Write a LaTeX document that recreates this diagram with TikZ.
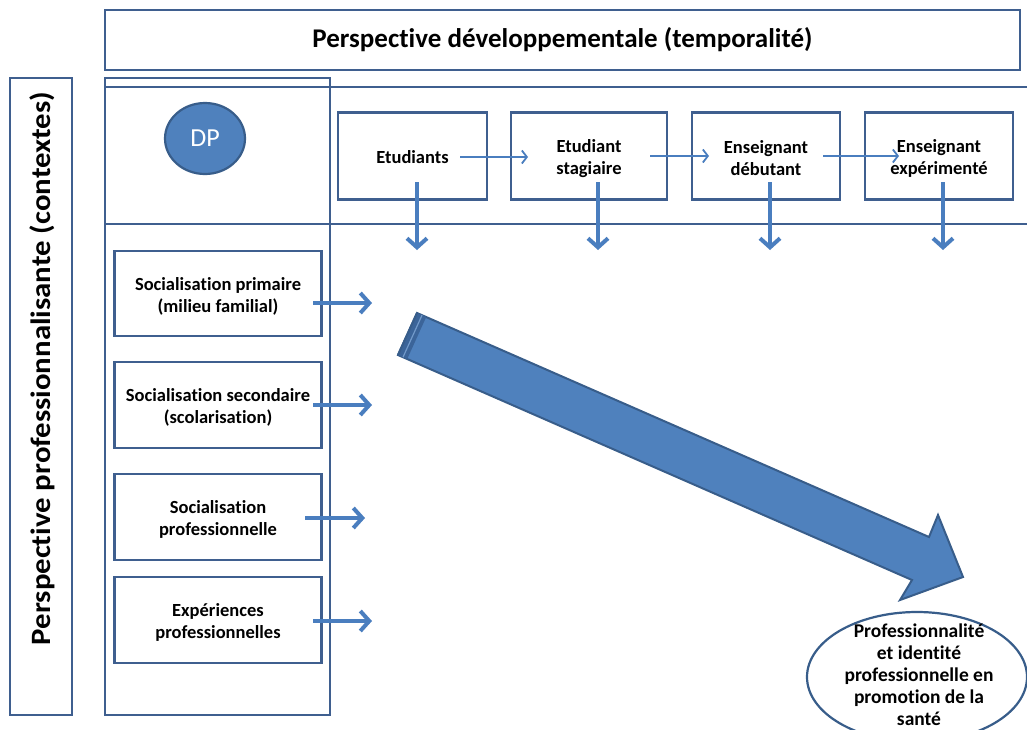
\documentclass[tikz,border=0pt]{standalone}
\usepackage{fontspec}
\setmainfont{Carlito}[Ligatures=NoCommon]
\usetikzlibrary{arrows.meta,shapes.geometric}
\definecolor{frame}{HTML}{3F5F8F}
\definecolor{blue1}{HTML}{4F81BD}
\definecolor{dark}{HTML}{385D8A}
\definecolor{darkband}{HTML}{3B6499}
\definecolor{arr}{HTML}{4A7EBF}
\begin{document}
\begin{tikzpicture}[x=1pt,y=-1pt,
  frameline/.style={draw=frame,line width=2.6pt},
  framebox/.style={draw=frame,line width=2.6pt,inner sep=0pt},
  stepbox/.style={draw=frame,line width=2.6pt,fill=white,inner sep=0pt},
  lbl/.style={align=center,inner sep=0pt,font=\bfseries\fontsize{18.5}{22}\selectfont},
  thinarr/.style={draw=arr,line width=1.8pt,-{Straight Barb[length=5pt,width=13pt]}},
  thickarr/.style={draw=arr,line width=4pt,-{Straight Barb[length=9pt,width=20pt]}},
]
\useasboundingbox (0,0) rectangle (1027,729);
\fill[white] (0,0) rectangle (1027,729);

% title
\node[framebox, minimum width=915pt, minimum height=60pt,
  font=\bfseries\fontsize{27}{31}\selectfont] (title) at (562.5,40) {Perspective développementale (temporalité)};

% vertical band
\node[framebox, minimum width=62pt, minimum height=637pt] (vbox) at (41,396.5) {};
\node[rotate=90, xscale=1.1, inner sep=0pt, font=\bfseries\fontsize{28}{32}\selectfont] (vtext) at (42,368.5) {Perspective professionnalisante (contextes)};

% left column
\node[framebox, minimum width=225pt, minimum height=637pt] (col) at (217.5,396.5) {};
\coordinate (l1a) at (105,87);
\coordinate (l1b) at (1027,87);
\coordinate (l2a) at (105,224);
\coordinate (l2b) at (1027,224);
\draw[frameline] (l1a) -- (l1b);
\draw[frameline] (l2a) -- (l2b);

% DP
\node[ellipse, draw=dark, line width=2.2pt, fill=blue1, minimum width=80pt, minimum height=71pt,
  text=white, font=\fontsize{26}{30}\selectfont, inner sep=0pt] (dp) at (205,138.5) {DP};

% stage boxes
\node[stepbox, minimum width=149pt, minimum height=87pt] (etu) at (412.5,156) {};
\node[stepbox, minimum width=156pt, minimum height=87pt] (sta) at (589,156) {};
\node[stepbox, minimum width=148pt, minimum height=87pt] (deb) at (766,156) {};
\node[stepbox, minimum width=148pt, minimum height=87pt] (exp) at (939,156) {};
\node[lbl] (etut) at (412.5,157.5) {Etudiants};
\node[lbl] (stat) at (589,158.5) {Etudiant\\stagiaire};
\node[lbl] (debt) at (766,158.5) {Enseignant\\débutant};
\node[lbl] (expt) at (939,158.5) {Enseignant\\expérimenté};

% horizontal thin arrows
\coordinate (h1s) at (460,157); \coordinate (h1e) at (528,157);
\coordinate (h2s) at (650,156); \coordinate (h2e) at (709,156);
\coordinate (h3s) at (823,156); \coordinate (h3e) at (899,156);
\draw[thinarr] (h1s) -- (h1e);
\draw[thinarr] (h2s) -- (h2e);
\draw[thinarr] (h3s) -- (h3e);

% vertical thick arrows
\foreach \n/\x in {v1/417, v2/598, v3/770, v4/943}{
  \coordinate (\n s) at (\x,182);
  \coordinate (\n e) at (\x,250);
  \draw[thickarr] (\n s) -- (\n e);
}

% left boxes
\node[stepbox, minimum width=207pt, minimum height=85pt] (s1) at (218,293.5) {};
\node[stepbox, minimum width=207pt, minimum height=86pt] (s2) at (218,405) {};
\node[stepbox, minimum width=207pt, minimum height=86pt] (s3) at (218,517) {};
\node[stepbox, minimum width=207pt, minimum height=86pt] (s4) at (218,620) {};
\node[lbl] (s1t) at (218,296) {Socialisation primaire\\(milieu familial)};
\node[lbl] (s2t) at (218,407) {Socialisation secondaire\\(scolarisation)};
\node[lbl] (s3t) at (218,519) {Socialisation\\professionnelle};
\node[lbl] (s4t) at (218,622) {Expériences\\professionnelles};

\coordinate (a1s) at (313,303); \coordinate (a1e) at (372,303);
\coordinate (a2s) at (313,405); \coordinate (a2e) at (372,405);
\coordinate (a3s) at (305,518); \coordinate (a3e) at (365,518);
\coordinate (a4s) at (313,621); \coordinate (a4e) at (372,621);
\draw[thickarr] (a1s) -- (a1e);
\draw[thickarr] (a2s) -- (a2e);
\draw[thickarr] (a3s) -- (a3e);
\draw[thickarr] (a4s) -- (a4e);

% big arrow
\filldraw[fill=blue1, draw=dark, line width=2pt, line join=miter]
  (417,313) -- (929,537) -- (938,515) -- (963,577) -- (900,600) -- (912,580) -- (398,355) -- cycle;
\fill[darkband] (417,313) -- (426.2,317) -- (407.2,359) -- (398,355) -- cycle;
\draw[blue1!80!white, line width=1.2pt] (422,315.2) -- (403,357.2);
\draw[dark, line width=2pt] (417,313) -- (398,355);

% goal ellipse
\node[ellipse, draw=dark, line width=2.2pt, fill=white, minimum width=220pt, minimum height=130pt] (goal) at (917,677) {};
\node[lbl, font=\bfseries\fontsize{19.5}{22}\selectfont] (goaltext) at (919,675) {Professionnalité\\et identité\\professionnelle en\\promotion de la\\santé};
\end{tikzpicture}
\end{document}
